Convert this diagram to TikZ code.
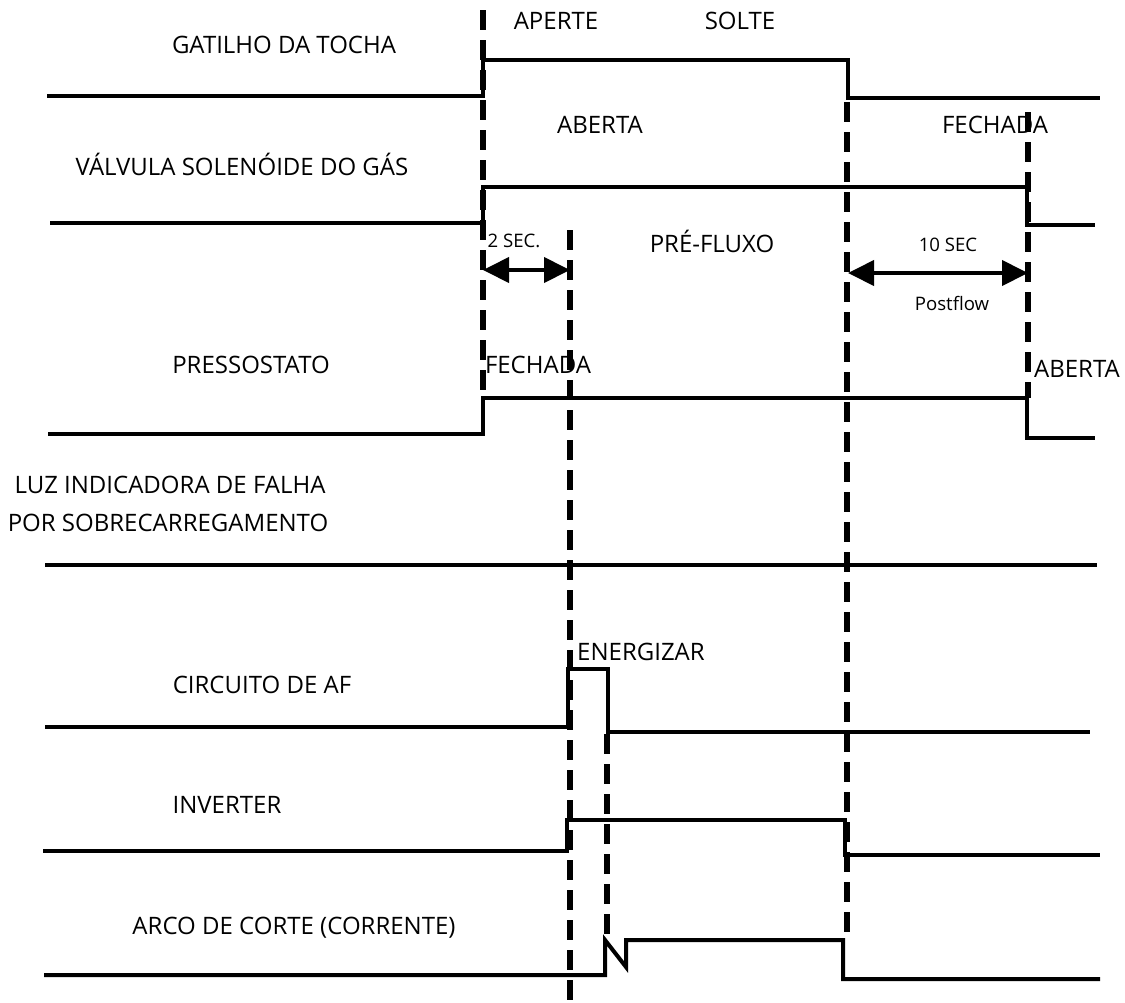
\documentclass[tikz,border=0pt]{standalone}
\usepackage{fontspec}
\setmainfont{Open Sans}
\usetikzlibrary{arrows.meta, positioning}

\begin{document}
\begin{tikzpicture}[x=0.5pt, y=-0.5pt,
    sinal/.style={line width=2pt, line join=miter},
    marca/.style={line width=2.8pt, dash pattern=on 10pt off 5pt},
    cota/.style={line width=2pt, {Triangle[length=13pt,width=12.5pt]}-{Triangle[length=13pt,width=12.5pt]}},
    rotulo/.style={anchor=base, inner sep=0pt, font=\fontsize{12}{14}\selectfont},
    tempo/.style={anchor=base, inner sep=0pt, font=\fontsize{9.3}{11}\selectfont}]
  \useasboundingbox (0,0) rectangle (1125,1002);

  % nomes dos sinais
  \node (gat) [rotulo] at (284,53) {GATILHO DA TOCHA};
  \node (val) [rotulo] at (242,175) {VÁLVULA SOLENÓIDE DO GÁS};
  \node (pre) [rotulo] at (251,373) {PRESSOSTATO};
  \node (luz1) [rotulo] at (170,493) {LUZ INDICADORA DE FALHA};
  \node (luz2) [rotulo] at (168,531) {POR SOBRECARREGAMENTO};
  \node (af) [rotulo] at (262,693) {CIRCUITO DE AF};
  \node (inv) [rotulo] at (227,813) {INVERTER};
  \node (arco) [rotulo] at (294,934) {ARCO DE CORTE (CORRENTE)};

  % estados
  \node (aperte) [rotulo] at (556,29) {APERTE};
  \node (solte) [rotulo] at (740,29) {SOLTE};
  \node (aberta1) [rotulo] at (600,133) {ABERTA};
  \node (fechada1) [rotulo] at (995,133) {FECHADA};
  \node (prefluxo) [rotulo] at (712,252) {PRÉ-FLUXO};
  \node (fechada2) [rotulo] at (538,373) {FECHADA};
  \node (aberta2) [rotulo] at (1077,377) {ABERTA};
  \node (energ) [rotulo] at (641,660) {ENERGIZAR};
  \node (seg2) [tempo] at (514,247) {2 SEC.};
  \node (seg10) [tempo] at (948,251) {10 SEC};
  \node (pos) [tempo] at (952,310) {Postflow};

  % formas de onda
  \draw [sinal] (47,96) -- (483,96) -- (483,60) -- (848,60) -- (848,98) -- (1100,98);
  \draw [sinal] (50,223) -- (483,223) -- (483,187) -- (1027,187) -- (1027,225) -- (1095,225);
  \draw [sinal] (48,434) -- (483,434) -- (483,398) -- (1027,398) -- (1027,438) -- (1095,438);
  \draw [sinal] (45,565) -- (1097,565);
  \draw [sinal] (45,727) -- (568,727) -- (568,669) -- (608,669) -- (608,732) -- (1090,732);
  \draw [sinal] (43,851) -- (567,851) -- (567,820) -- (845,820) -- (845,855) -- (1100,855);
  \draw [sinal] (44,975) -- (605,975) -- (605,940) -- (626,967) -- (626,940)
      -- (843,940) -- (843,979) -- (1100,979);

  % marcas de tempo
  \coordinate (aTop) at (483,10);  \coordinate (aBot) at (483,398);
  \coordinate (bTop) at (570,230); \coordinate (bBot) at (570,1002);
  \coordinate (cTop) at (847,102); \coordinate (cBot) at (847,940);
  \coordinate (dTop) at (1028,112); \coordinate (dBot) at (1028,398);
  \coordinate (eTop) at (607,734); \coordinate (eBot) at (607,940);
  \draw [marca] (aTop) -- (aBot);
  \draw [marca] (bTop) -- (bBot);
  \draw [marca] (cTop) -- (cBot);
  \draw [marca] (dTop) -- (dBot);
  \draw [marca] (eTop) -- (eBot);

  % cotas
  \coordinate (p0) at (483,270); \coordinate (p1) at (570,270);
  \coordinate (q0) at (848,273); \coordinate (q1) at (1028,273);
  \draw [cota] (p0) -- (p1);
  \draw [cota] (q0) -- (q1);
\end{tikzpicture}
\end{document}
